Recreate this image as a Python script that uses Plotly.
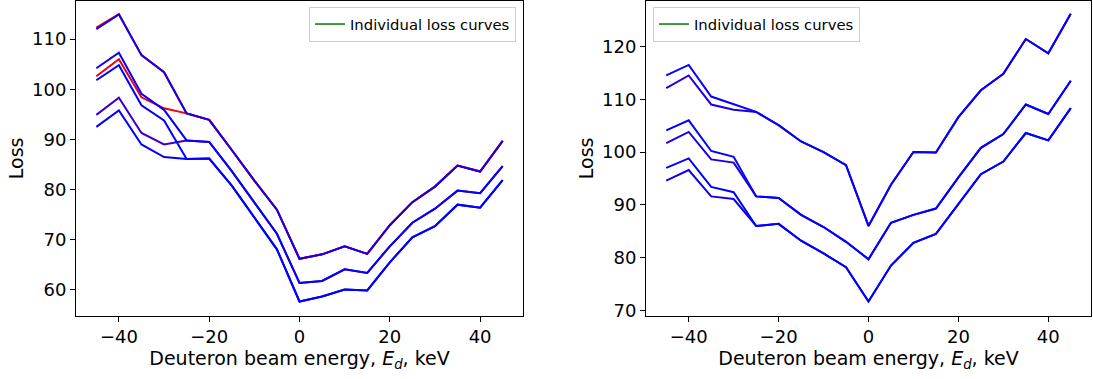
import plotly.graph_objects as go

energy = [-45, -40, -35, -30, -25, -20, -15, -10, -5, 0, 5, 10, 15, 20, 25, 30, 35, 40, 45]

# Left panel curves
left_top_red = [112.3, 115.0, 106.8, 103.4, 95.2, 93.9, 87.9, 81.8, 76.0, 66.2, 67.1, 68.7, 67.2, 72.9, 77.5, 80.6, 84.8, 83.6, 89.7]
left_mid_red = [102.6, 106.0, 98.4, 96.2, 95.2, 93.9, 87.9, 81.8, 76.0, 66.2, 67.1, 68.7, 67.2, 72.9, 77.5, 80.6, 84.8, 83.6, 89.7]
left_top = [112.0, 114.9, 106.8, 103.4, 95.2, 93.9, 87.9, 81.8, 76.0, 66.2, 67.1, 68.7, 67.2, 72.9, 77.5, 80.6, 84.8, 83.6, 89.7]
left_mid_a = [104.2, 107.3, 99.1, 95.9, 89.8, 89.5, 83.7, 77.5, 71.2, 61.4, 61.8, 64.1, 63.4, 68.7, 73.4, 76.2, 79.8, 79.3, 84.7]
left_mid_b = [94.9, 98.3, 91.3, 89.0, 89.8, 89.5, 83.7, 77.5, 71.2, 61.4, 61.8, 64.1, 63.4, 68.7, 73.4, 76.2, 79.8, 79.3, 84.7]
left_bot_a = [101.8, 104.8, 96.8, 93.8, 86.1, 86.2, 80.8, 74.4, 68.1, 57.7, 58.7, 60.1, 59.9, 65.5, 70.5, 72.7, 77.0, 76.4, 81.9]
left_bot_b = [92.5, 95.8, 89.0, 86.5, 86.1, 86.2, 80.8, 74.4, 68.1, 57.7, 58.7, 60.1, 59.9, 65.5, 70.5, 72.7, 77.0, 76.4, 81.9]

# Right panel curves
right_top_a = [114.5, 116.5, 110.5, 109.0, 107.6, 105.1, 102.0, 100.0, 97.5, 86.0, 93.8, 100.0, 99.9, 106.6, 111.7, 114.8, 121.4, 118.7, 126.2]
right_top_b = [112.1, 114.5, 109.0, 108.0, 107.6, 105.1, 102.0, 100.0, 97.5, 86.0, 93.8, 100.0, 99.9, 106.6, 111.7, 114.8, 121.4, 118.7, 126.2]
right_mid_a = [104.1, 106.0, 100.2, 99.1, 91.6, 91.3, 88.1, 85.8, 83.0, 79.7, 86.6, 88.1, 89.3, 95.2, 100.8, 103.4, 109.0, 107.2, 113.5]
right_mid_b = [101.7, 103.8, 98.6, 98.0, 91.6, 91.3, 88.1, 85.8, 83.0, 79.7, 86.6, 88.1, 89.3, 95.2, 100.8, 103.4, 109.0, 107.2, 113.5]
right_low_a = [97.0, 98.8, 93.4, 92.4, 86.0, 86.4, 83.2, 80.8, 78.2, 71.7, 78.5, 82.8, 84.5, 90.2, 95.8, 98.2, 103.6, 102.2, 108.3]
right_low_b = [94.6, 96.6, 91.6, 91.1, 86.0, 86.4, 83.2, 80.8, 78.2, 71.7, 78.5, 82.8, 84.5, 90.2, 95.8, 98.2, 103.6, 102.2, 108.3]

legend_label = "Individual loss curves"

left_curves = [(left_top_red, "#ff0000"), (left_mid_red, "#ee0011"),
               (left_mid_b, "#3a00c5"), (left_top, "#1000ef"),
               (left_mid_a, "#0800f7"), (left_bot_b, "#0400fb"), (left_bot_a, "#0000ff")]
right_curves = [(right_top_b, "#2000df"), (right_mid_b, "#1800e7"), (right_low_b, "#1000ef"),
                (right_top_a, "#0800f7"), (right_mid_a, "#0400fb"), (right_low_a, "#0000ff")]

fig = go.Figure()
for ys, c in left_curves:
    fig.add_trace(go.Scatter(x=energy, y=ys, mode="lines", line=dict(color=c, width=2),
                             showlegend=False, xaxis="x", yaxis="y", hoverinfo="skip"))
for ys, c in right_curves:
    fig.add_trace(go.Scatter(x=energy, y=ys, mode="lines", line=dict(color=c, width=2),
                             showlegend=False, xaxis="x2", yaxis="y2", hoverinfo="skip"))

fig.add_trace(go.Scatter(x=[None], y=[None], mode="lines", name=legend_label,
                         line=dict(color="#007a00", width=1.5), xaxis="x", yaxis="y", legend="legend"))
fig.add_trace(go.Scatter(x=[None], y=[None], mode="lines", name=legend_label,
                         line=dict(color="#007a00", width=1.5), xaxis="x2", yaxis="y2", legend="legend2"))

W, H = 1093, 379
font = dict(family="DejaVu Sans", size=18, color="black")
title_font = dict(family="DejaVu Sans", size=19, color="black")
axis_common = dict(showline=True, mirror=True, linecolor="black", linewidth=1,
                   ticks="outside", ticklen=5, tickcolor="black", tickwidth=1,
                   showgrid=False, zeroline=False, tickfont=font)
xtitle = "Deuteron beam energy, <i>E</i><sub><i>d</i></sub>, keV"
legend_font = dict(family="DejaVu Sans", size=14.8, color="black")

fig.update_layout(
    width=W, height=H,
    margin=dict(l=0, r=0, t=0, b=0),
    paper_bgcolor="white", plot_bgcolor="white",
    font=font,
    xaxis=dict(domain=[76 / W, 523 / W], range=[-49.5, 49.5], tickvals=[-40, -20, 0, 20, 40],
               title=dict(text=xtitle, font=title_font, standoff=5), anchor="y", **axis_common),
    yaxis=dict(domain=[(H - 320) / H, (H - 1) / H], range=[54.85, 117.6], tickvals=[60, 70, 80, 90, 100, 110],
               title=dict(text="Loss", font=title_font, standoff=3), anchor="x", **axis_common),
    xaxis2=dict(domain=[646 / W, 1091 / W], range=[-49.5, 49.5], tickvals=[-40, -20, 0, 20, 40],
                title=dict(text=xtitle, font=title_font, standoff=5), anchor="y2", **axis_common),
    yaxis2=dict(domain=[(H - 320) / H, (H - 1) / H], range=[68.99, 128.6], tickvals=[70, 80, 90, 100, 110, 120],
                title=dict(text="Loss", font=title_font, standoff=3), anchor="x2", **axis_common),
    legend=dict(x=516 / W, y=1 - 7 / H, xanchor="right", yanchor="top",
                bgcolor="rgba(255,255,255,0.8)", bordercolor="#cccccc", borderwidth=1,
                font=legend_font),
    legend2=dict(x=653 / W, y=1 - 7 / H, xanchor="left", yanchor="top",
                 bgcolor="rgba(255,255,255,0.8)", bordercolor="#cccccc", borderwidth=1,
                 font=legend_font),
)

fig.write_html("out.html")
